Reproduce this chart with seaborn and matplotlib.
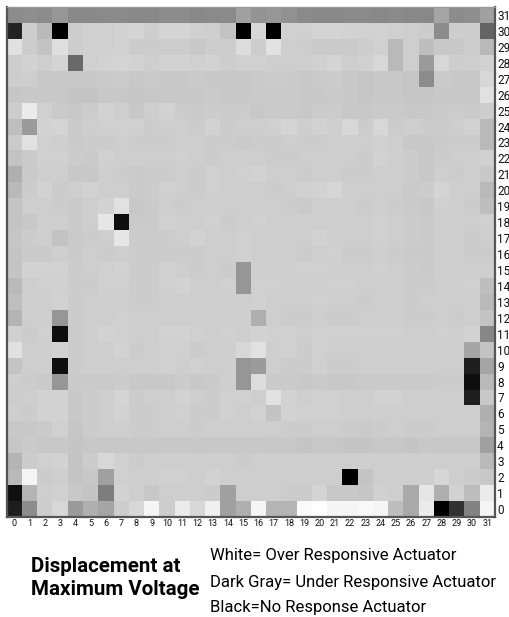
import numpy as np
import pandas as pd
import matplotlib
matplotlib.use("Agg")
import matplotlib.pyplot as plt
import seaborn as sns

# Actuator grid: 32 x 32, rows listed from top (row 31) to bottom (row 0)
row_labels = list(range(31, -1, -1))
col_labels = list(range(32))

# Displacement level at maximum voltage, expressed as grey intensity (0 = black, 255 = white)
r31 = [140,142,140,150,136,136,138,138,136,136,140,140,136,138,138,160,148,150,145,138,136,136,138,138,136,138,136,136,165,140,142,160]
r30 = [35,205,185,0,205,208,208,210,212,206,212,212,208,206,195,0,215,0,208,208,212,212,210,210,210,208,206,204,140,205,205,100]
r29 = [225,205,195,222,205,208,208,210,204,204,205,205,200,205,205,220,205,225,206,205,202,202,202,205,208,185,206,190,200,200,205,185]
r28 = [205,210,206,212,105,208,210,212,210,206,210,210,208,210,205,208,208,206,206,206,208,212,206,208,215,185,206,155,215,205,206,210]
r27 = [205,206,200,200,200,200,202,204,200,202,200,200,202,200,200,200,202,204,202,200,202,204,200,198,200,200,198,140,202,200,200,215]
r26 = [198,200,200,200,196,196,200,200,198,200,200,200,200,202,200,200,202,202,202,200,200,202,200,198,200,200,198,198,200,200,200,225]
r25 = [205,235,208,202,200,204,210,206,200,206,210,204,202,204,204,204,200,202,202,200,204,204,200,200,202,202,200,200,202,204,202,205]
r24 = [190,155,210,212,202,206,208,208,208,204,206,206,204,210,204,206,206,208,212,206,210,206,215,204,215,204,206,204,204,206,210,185]
r23 = [202,225,208,206,202,204,204,206,204,204,204,206,206,204,204,202,204,204,206,204,204,206,206,206,208,206,200,200,202,204,204,185]
r22 = [195,202,208,208,204,202,208,206,206,206,206,208,206,204,206,206,206,204,204,206,206,206,206,204,210,206,204,200,204,206,206,208]
r21 = [175,202,206,206,200,200,206,204,202,204,204,206,204,208,206,208,210,206,206,204,206,206,204,204,206,206,204,200,206,204,206,200]
r20 = [185,204,210,204,206,210,206,206,202,204,208,206,204,208,206,206,206,204,206,208,210,214,206,206,206,206,202,204,212,206,206,185]
r19 = [196,206,206,204,202,206,210,225,200,202,206,204,206,206,206,206,206,206,204,202,206,206,206,204,206,204,202,200,208,206,204,190]
r18 = [196,200,206,206,202,206,230,15,202,202,208,206,206,208,204,206,208,206,206,206,206,206,206,206,208,206,204,202,206,206,206,208]
r17 = [198,204,206,195,202,204,206,230,204,204,204,206,210,206,206,208,206,206,206,206,210,206,206,206,208,206,204,202,206,206,204,206]
r16 = [196,202,202,206,202,206,204,206,204,204,204,204,204,206,206,208,206,206,206,204,206,208,204,204,206,204,202,202,206,206,204,204]
r15 = [196,210,210,210,204,206,208,210,204,204,208,206,204,206,204,150,206,206,206,208,208,206,206,206,208,206,204,202,206,206,206,206]
r14 = [185,206,208,208,204,204,208,208,204,204,208,210,206,206,208,150,208,208,206,206,206,208,208,206,206,206,204,204,206,206,208,190]
r13 = [190,206,206,210,204,206,206,206,204,204,206,206,206,206,206,206,208,206,206,206,208,206,206,204,206,206,204,206,206,206,206,185]
r12 = [180,206,206,150,204,206,206,208,206,206,206,206,206,206,206,206,175,206,204,204,206,204,204,206,206,206,204,204,206,204,206,195]
r11 = [208,204,208,15,204,206,210,208,206,206,210,210,208,206,208,206,210,208,208,206,208,208,208,208,208,208,206,206,208,206,210,135]
r10 = [225,206,206,210,204,206,206,210,204,206,208,208,204,206,206,215,225,206,208,204,208,206,206,206,206,206,206,206,206,206,165,195]
r9 = [196,206,206,15,204,206,206,206,206,206,208,206,208,206,206,150,155,206,204,204,208,204,204,206,206,206,206,206,206,206,30,165]
r8 = [206,204,202,150,202,202,202,204,200,200,200,204,200,202,206,150,220,202,202,200,202,200,200,202,202,202,202,202,204,204,15,185]
r7 = [204,206,210,210,200,204,206,212,204,206,206,210,206,204,208,208,206,225,210,206,208,208,206,206,210,210,206,206,206,206,30,200]
r6 = [206,204,210,210,200,204,206,210,204,204,206,208,204,204,208,206,210,195,210,208,208,208,206,206,206,206,206,206,206,206,206,175]
r5 = [200,200,202,208,198,204,206,206,204,204,206,206,204,206,206,206,206,206,204,204,206,206,204,202,204,206,204,204,206,206,206,180]
r4 = [198,202,199,200,197,199,200,200,199,199,200,200,199,200,200,200,200,199,199,197,199,199,197,197,199,199,197,200,199,199,199,160]
r3 = [180,204,208,210,196,204,215,208,204,206,206,206,206,206,206,204,206,206,206,206,206,206,206,206,206,206,206,206,206,206,206,185]
r2 = [185,245,204,206,196,200,160,208,206,206,208,208,206,210,206,206,206,206,206,206,206,206,0,196,206,206,206,206,214,206,204,200]
r1 = [15,180,206,208,200,196,125,210,206,200,206,206,206,204,160,206,206,206,204,204,212,200,200,198,208,206,170,230,175,210,190,235]
r0 = [30,140,205,215,155,175,165,205,215,245,205,235,215,240,160,175,245,180,180,250,255,245,245,248,245,190,170,235,0,50,130,245]

grid_rows = [r31, r30, r29, r28, r27, r26, r25, r24, r23, r22, r21, r20, r19, r18, r17, r16,
             r15, r14, r13, r12, r11, r10, r9, r8, r7, r6, r5, r4, r3, r2, r1, r0]

title_lines = ["Displacement at", "Maximum Voltage"]
legend_lines = ["White= Over Responsive Actuator",
                "Dark Gray= Under Responsive Actuator",
                "Black=No Response Actuator"]

df = pd.DataFrame(grid_rows, index=row_labels, columns=col_labels)

sns.set_theme(style="white")
plt.rcParams['font.family'] = ['Roboto', 'DejaVu Sans']

fig = plt.figure(figsize=(5.10, 6.17), dpi=100)
fig.patch.set_facecolor("white")
ax = fig.add_axes([6.7/510, 1 - 517/617, (495 - 6.7)/510, 510/617])

sns.heatmap(df, cmap="gray", vmin=0, vmax=255, cbar=False, ax=ax,
            linewidths=0, square=False, xticklabels=True, yticklabels=True)

ax.yaxis.tick_right()
ax.tick_params(axis="both", length=0, pad=1.5)
ax.set_xticklabels(col_labels, rotation=0, fontsize=6.5, color="#111111")
ax.set_yticklabels(row_labels, rotation=0, fontsize=8.5, color="#111111")
ax.set_xlabel("")
ax.set_ylabel("")

for name, sp in ax.spines.items():
    sp.set_visible(True)
for name in ("left", "bottom", "right"):
    ax.spines[name].set_color("#555555")
    ax.spines[name].set_linewidth(1.6)
ax.spines["top"].set_color("#9a9a9a")
ax.spines["top"].set_linewidth(1.0)

fig.text(31/510, 1 - 572/617, title_lines[0], fontsize=14.8, fontweight="bold", color="black")
fig.text(31/510, 1 - 595/617, title_lines[1], fontsize=14.8, fontweight="bold", color="black")

for txt, base in zip(legend_lines, [560, 587, 612]):
    fig.text(210/510, 1 - base/617, txt, fontsize=12, color="black")

fig.savefig("out.png", dpi=100, facecolor="white")
